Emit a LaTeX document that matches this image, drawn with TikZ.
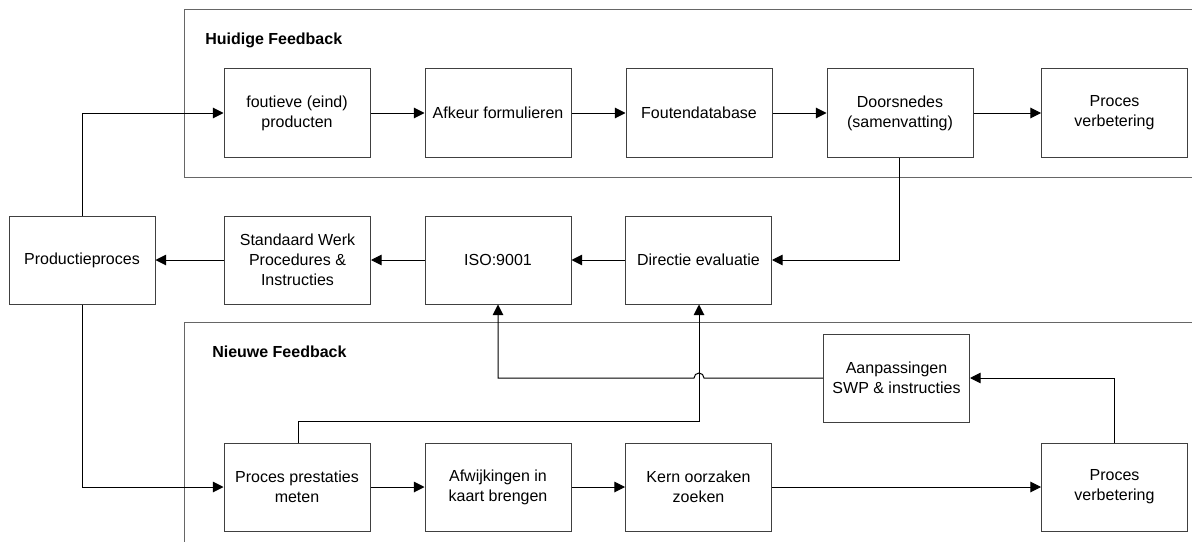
\documentclass[tikz,border=0pt]{standalone}
\usepackage{fontspec}
\setmainfont{Liberation Sans}
\usetikzlibrary{arrows.meta}
\begin{document}
\begin{tikzpicture}[x=0.75pt,y=-0.75pt,
  box/.style={draw=black!75,line width=0.75pt,minimum width=109.5pt,minimum height=66pt,
    inner sep=0pt,align=center,font=\fontsize{12}{15}\selectfont},
  frame/.style={draw=black!60,line width=0.75pt},
  conn/.style={draw=black,line width=0.75pt},
  arr/.style={conn,-{Triangle[length=8pt,width=8pt]}},
  ttl/.style={anchor=west,inner sep=0pt,font=\fontsize{12}{15}\selectfont\bfseries}]
\useasboundingbox (0,0) rectangle (1192,542);
% frames
\draw[frame] (1192,10) -- (184,10) -- (184,177) -- (1192,177);
\draw[frame] (1192,322) -- (184,322) -- (184,542);
\node[ttl] (t1) at (205,40) {Huidige Feedback};
\node[ttl] (t2) at (212,352) {Nieuwe Feedback};
% top row
\node[box] (f1) at (297,113) {foutieve (eind)\\producten};
\node[box] (f2) at (498,113) {Afkeur formulieren};
\node[box] (f3) at (699,113) {Foutendatabase};
\node[box] (f4) at (900,113) {Doorsnedes\\(samenvatting)};
\node[box] (f5) at (1114.5,113) {Proces\\verbetering};
% middle row
\node[box] (m0) at (82,260) {Productieproces};
\node[box] (m1) at (297.5,260) {Standaard Werk\\Procedures \&\\Instructies};
\node[box] (m2) at (498,260) {ISO:9001};
\node[box] (m3) at (698.5,260) {Directie evaluatie};
% bottom
\node[box] (a1) at (896.5,378) {Aanpassingen\\SWP \& instructies};
\node[box] (b1) at (297,487) {Proces prestaties\\meten};
\node[box] (b2) at (498,487) {Afwijkingen in\\kaart brengen};
\node[box] (b3) at (698.5,487) {Kern oorzaken\\zoeken};
\node[box] (b4) at (1114.5,487) {Proces\\verbetering};
% connectors top
\draw[arr] (f1) -- (f2);
\draw[arr] (f2) -- (f3);
\draw[arr] (f3) -- (f4);
\draw[arr] (f4) -- (f5);
\draw[arr] (m0.north) |- (f1.west);
\draw[arr] (f4.south -| 899,0) |- (m3.east);
\draw[arr] (m3) -- (m2);
\draw[arr] (m2) -- (m1);
\draw[arr] (m1) -- (m0);
\draw[arr] (m0.south) |- (b1.west);
\draw[arr] (b1) -- (b2);
\draw[arr] (b2) -- (b3);
\draw[arr] (b3) -- (b4);
\draw[arr] (b4.north) |- (a1.east);
\draw[arr] (b1.north -| 298,0) -- (298,421) -- (699,421) -- (m3.south -| 699,0);
\draw[arr] (a1.west) -- (704,378) arc[start angle=0,end angle=180,radius=3.75pt] -- (498,378) -- (m2.south);
\end{tikzpicture}
\end{document}
